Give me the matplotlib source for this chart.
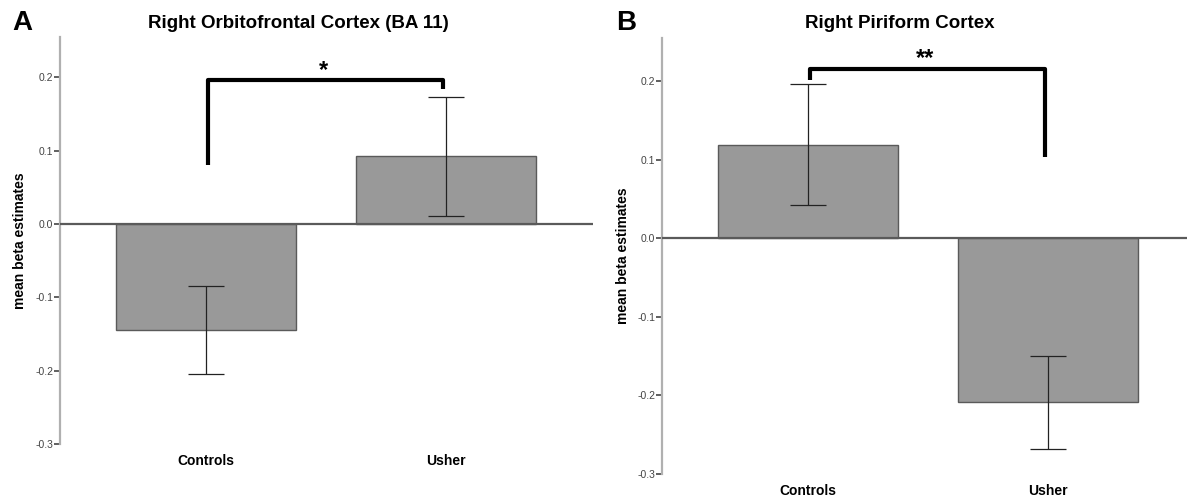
import numpy as np
import matplotlib
matplotlib.use('Agg')
import matplotlib.pyplot as plt

plt.rcParams['font.family'] = ['Liberation Sans', 'DejaVu Sans']

# data
groups = ['Controls', 'Usher']
yticks = [-0.3, -0.2, -0.1, 0.0, 0.1, 0.2]

# panel A: right orbitofrontal cortex (BA 11)
ofc_mean = [-0.145, 0.093]
ofc_lo = [-0.205, 0.011]
ofc_hi = [-0.085, 0.173]
ofc_bracket = [0.080, 0.196, 0.184]   # left foot, top, right foot
ofc_stars = '*'

# panel B: right piriform cortex
pir_mean = [0.119, -0.208]
pir_lo = [0.042, -0.268]
pir_hi = [0.196, -0.150]
pir_bracket = [0.202, 0.216, 0.103]
pir_stars = '**'

W, H = 1187, 501
fig = plt.figure(figsize=(W / 100, H / 100), dpi=100, facecolor='w')


def panel(rect, mean, lo, hi, bracket, stars, label_x):
    ax = fig.add_axes(rect)
    x = np.arange(len(groups))
    mean = np.array(mean)
    err = [mean - np.array(lo), np.array(hi) - mean]
    ax.bar(x, mean, width=0.75, color='#999999', edgecolor='#5a5a5a', lw=1, zorder=2)
    ax.errorbar(x, mean, yerr=err, fmt='none', ecolor='#222222', elinewidth=0.9,
                capsize=13, capthick=0.9, zorder=3)
    ax.axhline(0, color='#5a5a5a', lw=1.6, zorder=4)
    # significance bracket
    bx = [x[0] + 0.01, x[0] + 0.01, x[1] - 0.01, x[1] - 0.01]
    by = [bracket[0], bracket[1], bracket[1], bracket[2]]
    ax.plot(bx, by, color='black', lw=3, solid_joinstyle='round',
            solid_capstyle='butt', zorder=5, clip_on=False)
    ax.text((x[0] + x[1]) / 2 - 0.01, bracket[1] + 0.004, stars, ha='center',
            va='baseline', fontsize=17, fontweight='bold')
    ax.set_xlim(-0.608, 1.613)
    ax.set_ylim(-0.3, 0.255)
    ax.set_yticks(yticks)
    ax.set_yticklabels(['%.1f' % v for v in yticks])
    ax.set_xticks(x)
    ax.set_xticklabels(groups, fontweight='bold', fontsize=10)
    ax.tick_params(axis='x', length=0, pad=7)
    ax.tick_params(axis='y', length=4, width=1.2, color='#444444', pad=1,
                   labelsize=7.5, labelcolor='#444444')
    ax.set_ylabel('mean beta estimates', fontweight='bold', fontsize=10)
    ax.yaxis.set_label_coords(label_x, 0.5)
    for s in ('top', 'right', 'bottom'):
        ax.spines[s].set_visible(False)
    ax.spines['left'].set_color('#b0b0b0')
    ax.spines['left'].set_linewidth(1.6)
    return ax


axA = panel([60 / W, 1 - 444 / H, 533 / W, 407 / H], ofc_mean, ofc_lo, ofc_hi,
            ofc_bracket, ofc_stars, -0.062)
axB = panel([662 / W, 1 - 474 / H, 533 / W, 436 / H], pir_mean, pir_lo, pir_hi,
            pir_bracket, pir_stars, -0.060)

fig.text(298 / W, 1 - 27.5 / H, 'Right Orbitofrontal Cortex (BA 11)', ha='center',
         va='baseline', fontsize=13.5, fontweight='bold')
fig.text(900 / W, 1 - 27.5 / H, 'Right Piriform Cortex', ha='center',
         va='baseline', fontsize=13.5, fontweight='bold')
fig.text(12 / W, 1 - 30 / H, 'A', ha='left', va='baseline', fontsize=20, fontweight='bold')
fig.text(616 / W, 1 - 30 / H, 'B', ha='left', va='baseline', fontsize=20, fontweight='bold')

fig.savefig('out.png', dpi=100, facecolor='w')
